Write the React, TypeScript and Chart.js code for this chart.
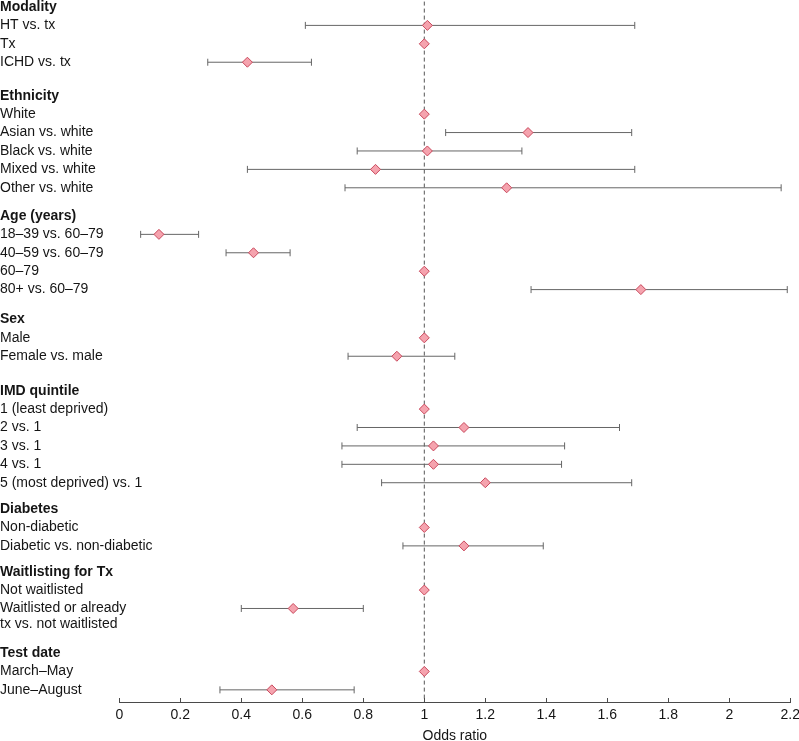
import React, { useEffect, useRef } from "react";
import { Chart, registerables } from "chart.js";

Chart.register(...registerables);

// ---- Data ----
const groupTitles = [
  "Modality",
  "Ethnicity",
  "Age (years)",
  "Sex",
  "IMD quintile",
  "Diabetes",
  "Waitlisting for Tx",
  "Test date",
];

const rowLabels: string[][] = [
  ["HT vs. tx", "Tx", "ICHD vs. tx"],
  ["White", "Asian vs. white", "Black vs. white", "Mixed vs. white", "Other vs. white"],
  ["18–39 vs. 60–79", "40–59 vs. 60–79", "60–79", "80+ vs. 60–79"],
  ["Male", "Female vs. male"],
  ["1 (least deprived)", "2 vs. 1", "3 vs. 1", "4 vs. 1", "5 (most deprived) vs. 1"],
  ["Non-diabetic", "Diabetic vs. non-diabetic"],
  ["Not waitlisted", "Waitlisted or already\ntx vs. not waitlisted"],
  ["March–May", "June–August"],
];

const oddsRatios: number[][] = [
  [1.01, 1, 0.42],
  [1, 1.34, 1.01, 0.84, 1.27],
  [0.13, 0.44, 1, 1.71],
  [1, 0.91],
  [1, 1.13, 1.03, 1.03, 1.2],
  [1, 1.13],
  [1, 0.57],
  [1, 0.5],
];

const lowerCI: (number | null)[][] = [
  [0.61, null, 0.29],
  [null, 1.07, 0.78, 0.42, 0.74],
  [0.07, 0.35, null, 1.35],
  [null, 0.75],
  [null, 0.78, 0.73, 0.73, 0.86],
  [null, 0.93],
  [null, 0.4],
  [null, 0.33],
];

const upperCI: (number | null)[][] = [
  [1.69, null, 0.63],
  [null, 1.68, 1.32, 1.69, 2.17],
  [0.26, 0.56, null, 2.19],
  [null, 1.1],
  [null, 1.64, 1.46, 1.45, 1.68],
  [null, 1.39],
  [null, 0.8],
  [null, 0.77],
];

const xTicks = [0, 0.2, 0.4, 0.6, 0.8, 1, 1.2, 1.4, 1.6, 1.8, 2, 2.2];
const xTickLabels = ["0", "0.2", "0.4", "0.6", "0.8", "1", "1.2", "1.4", "1.6", "1.8", "2", "2.2"];
const referenceOR = 1;
const xTitle = "Odds ratio";

// ---- Layout (row units) ----
const groupGapBefore = [0, 1.82, 1.53, 1.62, 1.87, 1.43, 1.4, 1.55];
const continuationStep = 0.87;
const yMin = -0.054;
const yMax = 37.75;
const LABEL_AREA = 119.3;

const FONT = "'Liberation Sans', Arial, Helvetica, sans-serif";
const TEXT = "#151515";
const BAR = "#666666";

type Row = { label: string; header: boolean; y: number; or?: number; lo?: number | null; hi?: number | null };

function buildRows(): Row[] {
  const rows: Row[] = [];
  let y = 0;
  groupTitles.forEach((title, g) => {
    if (g > 0) y += groupGapBefore[g];
    rows.push({ label: title, header: true, y });
    rowLabels[g].forEach((lab, i) => {
      const lines = lab.split("\n");
      y += 1;
      rows.push({ label: lines[0], header: false, y, or: oddsRatios[g][i], lo: lowerCI[g][i], hi: upperCI[g][i] });
      for (let k = 1; k < lines.length; k++) {
        y += continuationStep;
        rows.push({ label: lines[k], header: false, y });
      }
    });
  });
  return rows;
}

const innerTicks = {
  id: "innerTicks",
  afterDraw(chart: any) {
    const s = chart.scales.x;
    const ctx = chart.ctx;
    ctx.save();
    ctx.strokeStyle = "#4a4a4a";
    ctx.lineWidth = 1;
    ctx.beginPath();
    s.ticks.forEach((t: any) => {
      const px = Math.round(s.getPixelForValue(t.value)) + 0.5;
      ctx.moveTo(px, s.top);
      ctx.lineTo(px, s.top - 4);
    });
    ctx.stroke();
    ctx.restore();
  },
};

export default function App() {
  const ref = useRef<HTMLCanvasElement | null>(null);

  useEffect(() => {
    if (!ref.current) return;
    const rows = buildRows();
    const dataRows = rows.filter((r) => r.or !== undefined);
    const ciRows = dataRows.filter((r) => r.lo != null && r.hi != null);

    const datasets: any[] = [
      {
        type: "scatter",
        data: dataRows.map((r) => ({ x: r.or, y: r.y })),
        pointStyle: "rectRot",
        pointRadius: 5,
        pointBackgroundColor: "#f5a3ae",
        pointBorderColor: "#c9485c",
        pointBorderWidth: 1,
        showLine: false,
        order: 0,
      },
      ...ciRows.map((r) => ({
        type: "scatter",
        data: [
          { x: r.lo, y: r.y },
          { x: r.hi, y: r.y },
        ],
        showLine: true,
        borderColor: BAR,
        borderWidth: 1,
        pointStyle: "line",
        pointRotation: 90,
        pointRadius: 3.5,
        pointBorderColor: BAR,
        pointBorderWidth: 1,
        pointBackgroundColor: BAR,
        order: 1,
      })),
      {
        type: "scatter",
        data: [
          { x: referenceOR, y: yMin - 1 },
          { x: referenceOR, y: yMax },
        ],
        showLine: true,
        borderColor: "#555",
        borderWidth: 1,
        borderDash: [4, 3],
        pointRadius: 0,
        order: 2,
        clip: { left: 0, top: 10, right: 0, bottom: 0 },
      },
    ];

    const chart = new Chart(ref.current, {
      type: "scatter",
      data: { datasets },
      options: {
        animation: false,
        responsive: false,
        layout: { padding: { left: 0, right: 8.7, top: 0, bottom: 0 } },
        plugins: { legend: { display: false }, tooltip: { enabled: false } },
        scales: {
          x: {
            type: "linear",
            min: 0,
            max: 2.2,
            afterBuildTicks: (s: any) => {
              s.ticks = xTicks.map((v) => ({ value: v }));
            },
            afterFit: (s: any) => {
              s.paddingLeft = 0;
              s.paddingRight = 0;
            },
            ticks: {
              autoSkip: false,
              maxRotation: 0,
              padding: 6,
              color: TEXT,
              font: { family: FONT, size: 14, lineHeight: 1 },
              callback: (_v: any, i: number) => xTickLabels[i],
            },
            grid: { display: false, drawTicks: false },
            border: { display: true, color: "#4a4a4a", width: 1 },
            title: {
              display: true,
              text: xTitle,
              color: TEXT,
              font: { family: FONT, size: 14, lineHeight: 1 },
              padding: { top: 1, bottom: 0 },
            },
          },
          y: {
            type: "linear",
            reverse: true,
            min: yMin,
            max: yMax,
            afterBuildTicks: (s: any) => {
              s.ticks = rows.map((r) => ({ value: r.y }));
            },
            afterFit: (s: any) => {
              s.width = LABEL_AREA;
              s.paddingTop = 0;
              s.paddingBottom = 0;
            },
            ticks: {
              autoSkip: false,
              mirror: true,
              crossAlign: "near",
              padding: -LABEL_AREA,
              color: TEXT,
              font: (ctx: any) => ({
                family: FONT,
                size: 14,
                weight: rows[ctx.index] && rows[ctx.index].header ? "bold" : "normal",
              }),
              callback: (_v: any, i: number) => rows[i].label,
            },
            grid: { display: false, drawTicks: false },
            border: { display: false },
          },
        },
      } as any,
      plugins: [innerTicks],
    });
    return () => chart.destroy();
  }, []);

  return (
    <div style={{ position: "fixed", left: 0, top: 0, width: 799, height: 743, background: "#fff" }}>
      <canvas ref={ref} width={799} height={743} style={{ width: 799, height: 743, display: "block" }} />
    </div>
  );
}
